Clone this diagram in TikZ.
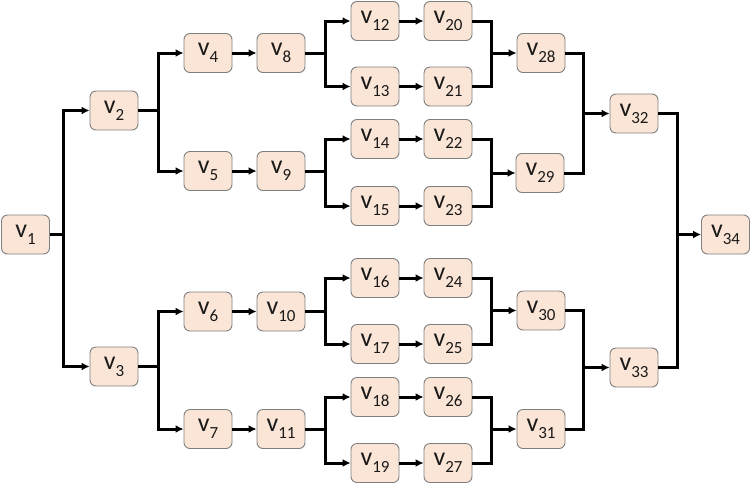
\documentclass[tikz,border=0pt]{standalone}
\usepackage{fontspec}
\setmainfont{Carlito}
\usetikzlibrary{arrows.meta}
\definecolor{boxfill}{HTML}{FBE5D6}
\definecolor{boxline}{HTML}{7F7F7F}
\definecolor{txt}{HTML}{1A1A1A}
\newcommand{\vlab}[1]{v\raisebox{-0.28em}{\fontsize{17}{17}\selectfont #1}}
\begin{document}
\begin{tikzpicture}[x=1pt,y=-1pt,
  vbox/.style={draw=boxline,fill=boxfill,line width=0.9pt,rounded corners=6pt,
    minimum width=48pt,minimum height=39pt,inner sep=0pt,text=txt,
    font=\fontsize{26}{26}\selectfont},
  conn/.style={line width=3pt,black},
  arr/.style={conn,-{Latex[length=8pt,width=8pt]}}]
\useasboundingbox (0,0) rectangle (751,485);
% nodes
\node[vbox] (v1) at (25.5,234.5) {\vlab{1}};
\node[vbox] (v2) at (114,110.5) {\vlab{2}};
\node[vbox] (v3) at (114,366.5) {\vlab{3}};
\node[vbox] (v4) at (208,53) {\vlab{4}};
\node[vbox] (v5) at (208,171) {\vlab{5}};
\node[vbox] (v6) at (208,311.5) {\vlab{6}};
\node[vbox] (v7) at (208,429) {\vlab{7}};
\node[vbox] (v8) at (281,53) {\vlab{8}};
\node[vbox] (v9) at (281,171) {\vlab{9}};
\node[vbox] (v10) at (281,311.5) {\vlab{10}};
\node[vbox] (v11) at (281,429) {\vlab{11}};
\node[vbox] (v12) at (375,21) {\vlab{12}};
\node[vbox] (v13) at (375,86.5) {\vlab{13}};
\node[vbox] (v14) at (375,139) {\vlab{14}};
\node[vbox] (v15) at (375,206) {\vlab{15}};
\node[vbox] (v16) at (375,278) {\vlab{16}};
\node[vbox] (v17) at (375,344) {\vlab{17}};
\node[vbox] (v18) at (375,397) {\vlab{18}};
\node[vbox] (v19) at (375,463) {\vlab{19}};
\node[vbox] (v20) at (448,21) {\vlab{20}};
\node[vbox] (v21) at (448,86.5) {\vlab{21}};
\node[vbox] (v22) at (448,139) {\vlab{22}};
\node[vbox] (v23) at (448,206) {\vlab{23}};
\node[vbox] (v24) at (448,278) {\vlab{24}};
\node[vbox] (v25) at (448,344) {\vlab{25}};
\node[vbox] (v26) at (448,397) {\vlab{26}};
\node[vbox] (v27) at (448,463) {\vlab{27}};
\node[vbox] (v28) at (541,53) {\vlab{28}};
\node[vbox] (v29) at (540,173) {\vlab{29}};
\node[vbox] (v30) at (541,310.5) {\vlab{30}};
\node[vbox] (v31) at (541,429) {\vlab{31}};
\node[vbox] (v32) at (634,113.5) {\vlab{32}};
\node[vbox] (v33) at (634,367.5) {\vlab{33}};
\node[vbox] (v34) at (725.5,234.5) {\vlab{34}};
% fork coordinates
\coordinate (f1) at (63,234.5);
\coordinate (f2) at (158,110.5);
\coordinate (f3) at (158,366.5);
\coordinate (f8) at (325,53);
\coordinate (f9) at (325,171);
\coordinate (f10) at (325,311.5);
\coordinate (f11) at (325,429);
% merge coordinates
\coordinate (m28) at (491,53);
\coordinate (m29) at (491,173);
\coordinate (m30) at (491,310.5);
\coordinate (m31) at (491,429);
\coordinate (m32) at (583,113.5);
\coordinate (m33) at (583,367.5);
\coordinate (m34) at (677,234.5);
% forks
\foreach \s/\f/\a/\b in {v1/f1/v2/v3, v2/f2/v4/v5, v3/f3/v6/v7,
  v8/f8/v12/v13, v9/f9/v14/v15, v10/f10/v16/v17, v11/f11/v18/v19}{
  \draw[conn] (\s.east) -- (\f);
  \draw[arr] (\f) |- (\a.west);
  \draw[arr] (\f) |- (\b.west);
}
% straight arrows
\foreach \a/\b in {v4/v8, v5/v9, v6/v10, v7/v11,
  v12/v20, v13/v21, v14/v22, v15/v23, v16/v24, v17/v25, v18/v26, v19/v27}{
  \draw[arr] (\a.east) -- (\b.west);
}
% merges
\foreach \a/\b/\m/\t in {v20/v21/m28/v28, v22/v23/m29/v29, v24/v25/m30/v30,
  v26/v27/m31/v31, v28/v29/m32/v32, v30/v31/m33/v33, v32/v33/m34/v34}{
  \draw[conn] (\a.east) -| (\m);
  \draw[conn] (\b.east) -| (\m);
  \draw[arr] (\m) -- (\t.west);
}
\end{tikzpicture}
\end{document}
